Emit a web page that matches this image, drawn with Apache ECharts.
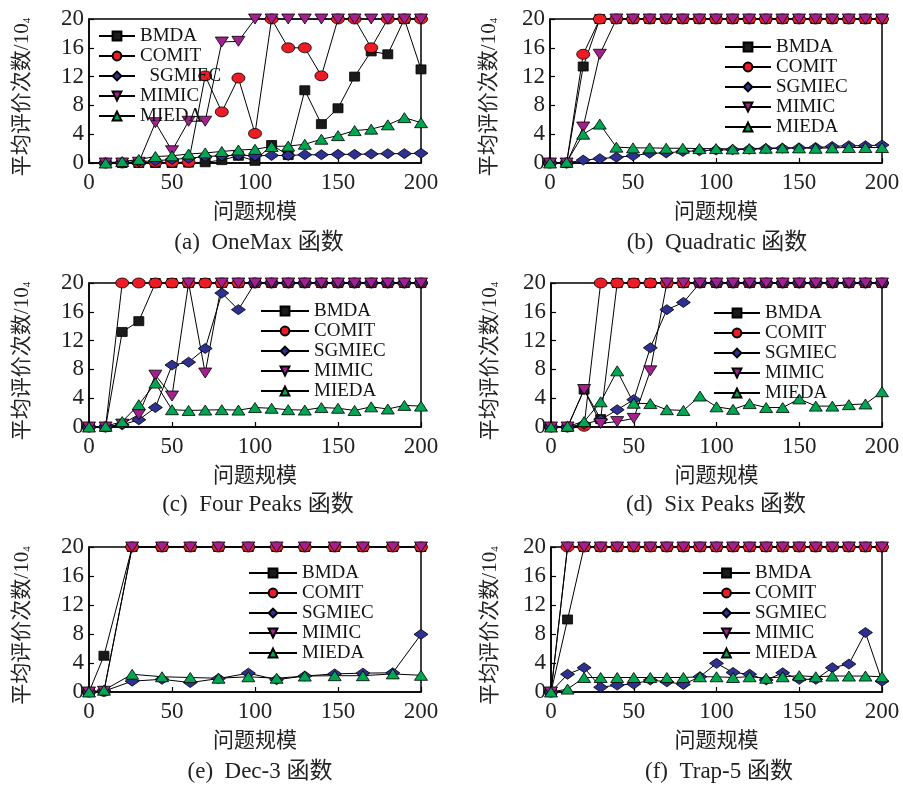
<!DOCTYPE html>
<html>
<head>
<meta charset="utf-8">
<script src="https://cdn.jsdelivr.net/npm/echarts@6/dist/echarts.min.js"></script>
<style>
html,body{margin:0;padding:0;background:#fff;}
#main{width:903px;height:787px;}
</style>
</head>
<body>
<div id="main"></div>
<script>
var names = ['BMDA', 'COMIT', 'SGMIEC', 'MIMIC', 'MIEDA'];
var yTicks = [0, 4, 8, 12, 16, 20];
var xTicks = [0, 50, 100, 150, 200];

// (a) OneMax
var xA = [10,20,30,40,50,60,70,80,90,100,110,120,130,140,150,160,170,180,190,200];
var bmdaA = [0,0,0,0,0,0.05,0.1,0.4,1.0,0.3,2.5,1.1,10.1,5.4,7.6,12.0,15.5,15.1,20,13.0];
var comitA = [0,0,0.05,0.1,0.1,0.1,12.1,7.1,11.8,4.1,20,16,16,12.1,20,20,16,20,20,20];
var sgmiecA = [0,0.05,0.2,0.3,0.5,0.65,0.9,1.0,1.1,1.0,1.05,1.05,1.15,1.15,1.2,1.2,1.25,1.3,1.3,1.35];
var mimicA = [0,0,0.1,5.6,1.7,5.8,5.8,16.8,16.9,20,20,20,20,20,20,20,20,20,20,20];
var miedaA = [0,0.2,0.5,0.9,1.0,1.25,1.4,1.6,1.8,1.9,2.3,2.35,2.6,3.3,3.8,4.5,4.7,5.3,6.3,5.6];

// (b) Quadratic
var xB = [0,10,20,30,40,50,60,70,80,90,100,110,120,130,140,150,160,170,180,190,200];
var bmdaB = [0,0,13.4,20,20,20,20,20,20,20,20,20,20,20,20,20,20,20,20,20,20];
var comitB = [0,0,15.1,20,20,20,20,20,20,20,20,20,20,20,20,20,20,20,20,20,20];
var sgmiecB = [0,0,0.4,0.6,0.8,1.0,1.35,1.4,1.6,1.7,1.8,1.85,1.9,2.0,2.05,2.1,2.15,2.3,2.4,2.4,2.5];
var mimicB = [0,0,5.0,15.1,20,20,20,20,20,20,20,20,20,20,20,20,20,20,20,20,20];
var miedaB = [0,0.1,4.0,5.4,2.2,2.1,2.1,2.05,2.05,2.0,2.0,1.95,2.0,2.05,2.1,2.1,2.05,2.1,2.15,2.15,2.15];

// (c) Four Peaks
var xC = [0,10,20,30,40,50,60,70,80,90,100,110,120,130,140,150,160,170,180,190,200];
var bmdaC = [0,0,13.2,14.7,20,20,20,20,20,20,20,20,20,20,20,20,20,20,20,20,20];
var comitC = [0,0,20,20,20,20,20,20,20,20,20,20,20,20,20,20,20,20,20,20,20];
var sgmiecC = [0,0,0.3,1.0,2.7,8.6,9.0,10.9,18.6,16.3,20,20,20,20,20,20,20,20,20,20,20];
var mimicC = [0,0,0.4,1.75,7.2,4.3,20,7.5,20,20,20,20,20,20,20,20,20,20,20,20,20];
var miedaC = [0,0.1,0.75,3.1,6.1,2.4,2.3,2.35,2.4,2.35,2.7,2.6,2.4,2.35,2.7,2.6,2.3,2.8,2.5,3.0,2.9];

// (d) Six Peaks
var xD = [0,10,20,30,40,50,60,70,80,90,100,110,120,130,140,150,160,170,180,190,200];
var bmdaD = [0,0,5.2,1.1,20,20,20,20,20,20,20,20,20,20,20,20,20,20,20,20,20];
var comitD = [0,0,0.1,20,20,20,20,20,20,20,20,20,20,20,20,20,20,20,20,20,20];
var sgmiecD = [0,0,0.4,1.0,2.4,3.8,11.0,16.3,17.3,20,20,20,20,20,20,20,20,20,20,20,20];
var mimicD = [0,0,5.2,0.5,0.75,1.2,7.8,20,20,20,20,20,20,20,20,20,20,20,20,20,20];
var miedaD = [0,0.1,0.75,3.5,7.8,3.3,3.25,2.4,2.3,4.3,2.8,2.45,3.25,2.7,2.7,3.9,2.9,2.9,3.1,3.2,4.9];

// (e) Dec-3
var xE = [0,9,26,44,61,78,96,113,130,148,165,183,200];
var bmdaE = [0,5.0,20,20,20,20,20,20,20,20,20,20,20];
var comitE = [0,0.1,20,20,20,20,20,20,20,20,20,20,20];
var sgmiecE = [0,0.1,1.5,1.75,1.3,1.85,2.6,1.7,2.2,2.5,2.6,2.65,7.95];
var mimicE = [0,0.1,20,20,20,20,20,20,20,20,20,20,20];
var miedaE = [0,0.25,2.45,2.1,2.0,1.9,2.1,1.9,2.2,2.25,2.25,2.5,2.3];

// (f) Trap-5
var xF = [0,10,20,30,40,50,60,70,80,90,100,110,120,130,140,150,160,170,180,190,200];
var bmdaF = [0,10,20,20,20,20,20,20,20,20,20,20,20,20,20,20,20,20,20,20,20];
var comitF = [0,20,20,20,20,20,20,20,20,20,20,20,20,20,20,20,20,20,20,20,20];
var sgmiecF = [0,2.45,3.35,0.65,0.95,1.1,1.65,1.4,1.05,2.1,3.95,2.7,2.45,1.65,2.65,1.75,1.75,3.35,3.85,8.2,1.5];
var mimicF = [0,20,20,20,20,20,20,20,20,20,20,20,20,20,20,20,20,20,20,20,20];
var miedaF = [0,0.4,2.0,2.0,2.0,2.0,2.0,2.0,2.0,2.1,2.1,2.0,2.1,1.9,2.1,2.25,2.1,2.2,2.2,2.2,2.1];

var captions = ['(a)  OneMax 函数', '(b)  Quadratic 函数', '(c)  Four Peaks 函数', '(d)  Six Peaks 函数', '(e)  Dec-3 函数', '(f)  Trap-5 函数'];

var colors = ['#1a1a1a', '#ed1c24', '#2e3192', '#a3218e', '#00a651'];
var symbols = ['rect', 'circle', 'diamond', 'path://M0,0L2,0L1,2Z', 'triangle'];
var symSizes = [[10, 9], [13, 10], [14, 10], [13, 10], [13, 10]];

var panels = [
	{x: xA, ys: [bmdaA, comitA, sgmiecA, mimicA, miedaA], grid: [89, 19, 332, 144], leg: [93, 21, 36], gap: 56, cap: [259, 243]},
	{x: xB, ys: [bmdaB, comitB, sgmiecB, mimicB, miedaB], grid: [550, 19, 332, 144], leg: [719, 32, 46], gap: 50, cap: [717, 243]},
	{x: xC, ys: [bmdaC, comitC, sgmiecC, mimicC, miedaC], grid: [89, 283, 332, 144], leg: [255, 296, 48], gap: 56, cap: [258, 505]},
	{x: xD, ys: [bmdaD, comitD, sgmiecD, mimicD, miedaD], grid: [551, 283, 331, 144], leg: [708, 298, 46], gap: 50, cap: [716, 505]},
	{x: xE, ys: [bmdaE, comitE, sgmiecE, mimicE, miedaE], grid: [89, 547, 332, 145], leg: [243, 558, 48], gap: 56, cap: [260, 772]},
	{x: xF, ys: [bmdaF, comitF, sgmiecF, mimicF, miedaF], grid: [551, 547, 331, 145], leg: [697, 558, 47], gap: 50, cap: [719, 772]}
];

var serif = "'Liberation Serif', 'Noto Sans CJK SC', serif";
var cjk = "'Noto Sans CJK SC', sans-serif";

var grids = [], xAxes = [], yAxes = [], series = [], legends = [], graphics = [];

panels.forEach(function(p, i){
	grids.push({left: p.grid[0], top: p.grid[1], width: p.grid[2], height: p.grid[3],
		show: true, borderColor: '#000', borderWidth: 1.5, backgroundColor: 'transparent'});
	xAxes.push({
		gridIndex: i, type: 'value', min: 0, max: 200, interval: 50,
		name: '问题规模', nameLocation: 'middle', nameGap: 37,
		nameTextStyle: {fontFamily: cjk, fontSize: 21, color: '#222'},
		axisLine: {lineStyle: {color: '#000', width: 1.5}},
		axisTick: {inside: true, length: 5, lineStyle: {color: '#000', width: 1.2}},
		axisLabel: {margin: 8, fontFamily: serif, fontSize: 23, color: '#222'},
		splitLine: {show: false}
	});
	yAxes.push({
		gridIndex: i, type: 'value', min: 0, max: 20, interval: 4,
		name: '{a|平均评价次数/10}{s|4}', nameLocation: 'middle', nameGap: p.gap, nameRotate: 90,
		nameTextStyle: {
			padding: [0, 12, 0, 0],
			rich: {
				a: {fontFamily: serif, fontSize: 21, color: '#222', lineHeight: 22},
				s: {fontFamily: serif, fontSize: 11, color: '#222', verticalAlign: 'bottom', lineHeight: 22}
			}
		},
		axisLine: {lineStyle: {color: '#000', width: 1.5}},
		axisTick: {inside: true, length: 5, lineStyle: {color: '#000', width: 1.2}},
		axisLabel: {margin: 5, fontFamily: serif, fontSize: 23, color: '#222'},
		splitLine: {show: false}
	});
	names.forEach(function(n, k){
		series.push({
			name: n, type: 'line', xAxisIndex: i, yAxisIndex: i,
			data: p.x.map(function(xv, j){ return [xv, p.ys[k][j]]; }),
			symbol: symbols[k], symbolSize: symSizes[k], showAllSymbol: true,
			clip: false, animation: false,
			lineStyle: {color: '#000', width: 1},
			itemStyle: {color: colors[k], borderColor: '#000', borderWidth: 0.8},
			emphasis: {disabled: true}
		});
	});
	legends.push({
		orient: 'vertical', left: p.leg[0], top: p.leg[1],
		itemWidth: p.leg[2], itemHeight: 11, itemGap: 0,
		selectedMode: false, data: names,
		formatter: i === 0 ? function(n){ return n === 'SGMIEC' ? '  SGMIEC' : n; } : '{name}',
		textStyle: {fontFamily: serif, fontSize: 19, color: '#111', lineHeight: 20}
	});
	graphics.push({
		type: 'text', x: p.cap[0], y: p.cap[1],
		style: {text: captions[i], fontFamily: serif, fontSize: 23, fill: '#222',
			textAlign: 'center', textVerticalAlign: 'middle'}
	});
});

var chart = echarts.init(document.getElementById('main'), null, {renderer: 'canvas'});
chart.setOption({
	animation: false,
	backgroundColor: '#fff',
	grid: grids,
	xAxis: xAxes,
	yAxis: yAxes,
	legend: legends,
	series: series,
	graphic: graphics
});
</script>
</body>
</html>
